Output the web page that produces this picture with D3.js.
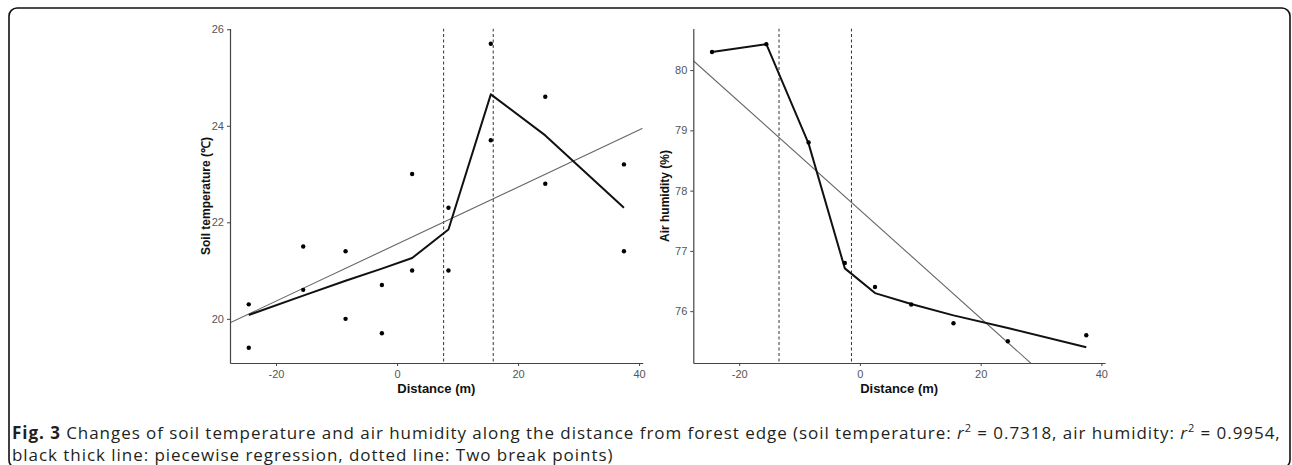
<!DOCTYPE html>
<html>
<head>
<meta charset="UTF-8">
<title>Fig. 3</title>
<script src="https://cdn.jsdelivr.net/npm/d3@7"></script>
<style>
  body { margin: 0; background: #fff; }
  svg { display: block; }
  .tick text { fill: #555; font-family: "Liberation Sans", Arial, sans-serif; font-size: 11px; }
  .tick line, .domain { stroke: #444; }
</style>
</head>
<body>
<div id="fig"></div>
<script>
// distance from forest edge (m)
const distance = [-24.5, -15.5, -8.5, -2.5, 2.5, 8.5, 15.5, 24.5, 37.5];
// soil temperature: two plots per distance
const soilTempA = [20.3, 21.5, 21.4, 20.7, 23.0, 22.3, 25.7, 24.6, 23.2];
const soilTempB = [19.4, 20.6, 20.0, 19.7, 21.0, 21.0, 23.7, 22.8, 21.4];
const soilTempFit = [20.08, 20.48, 20.79, 21.04, 21.26, 21.85, 24.65, 23.8, 22.3];
const soilBreaks = [7.7, 15.9];
const soilTicks = [20, 22, 24, 26];
// air humidity
const airHum = [80.30, 80.43, 78.80, 76.80, 76.40, 76.11, 75.80, 75.50, 75.60];
const airHumFit = [80.30, 80.43, 78.78, 76.71, 76.30, 76.12, 75.93, 75.72, 75.40];
const airBreaks = [-13.4, -1.4];
const airTicks = [76, 77, 78, 79, 80];
const distTicks = [-20, 0, 20, 40];

const W = 1292, H = 465;
const svg = d3.select("#fig").append("svg").attr("width", W).attr("height", H);

// rounded frame around figure
svg.append("rect")
  .attr("x", 9).attr("y", 8).attr("width", 1281).attr("height", 460)
  .attr("rx", 8)
  .attr("fill", "none").attr("stroke", "#111").attr("stroke-width", 1.6);

// simple least squares for the thin grey line
function lm(xs, ys) {
  const mx = d3.mean(xs), my = d3.mean(ys);
  let sxy = 0, sxx = 0;
  xs.forEach((x, i) => { sxy += (x - mx) * (ys[i] - my); sxx += (x - mx) * (x - mx); });
  const b = sxy / sxx;
  return { a: my - b * mx, b: b };
}

function panel(opt) {
  const x = d3.scaleLinear().domain([-27.6, 40.6]).range([opt.left, opt.right]);
  const y = d3.scaleLinear().domain(opt.ydom).range([363, 28.5]);
  const g = svg.append("g");

  const clipId = "clip" + opt.id;
  svg.append("clipPath").attr("id", clipId)
    .append("rect").attr("x", opt.left).attr("y", 28.5)
    .attr("width", opt.right - opt.left).attr("height", 363 - 28.5);

  const plot = g.append("g").attr("clip-path", "url(#" + clipId + ")");

  // break points
  plot.selectAll("line.brk")
    .data(opt.breaks)
    .join("line")
    .attr("class", "brk")
    .attr("x1", d => x(d)).attr("x2", d => x(d))
    .attr("y1", y.range()[1]).attr("y2", y.range()[0])
    .attr("stroke", "#333").attr("stroke-width", 1)
    .attr("stroke-dasharray", "3,2.5");

  // linear fit
  const fit = lm(opt.xs, opt.ys);
  const xd = x.domain();
  plot.append("line")
    .attr("x1", x(xd[0])).attr("y1", y(fit.a + fit.b * xd[0]))
    .attr("x2", x(xd[1])).attr("y2", y(fit.a + fit.b * xd[1]))
    .attr("stroke", "#666").attr("stroke-width", 1.1);

  // piecewise regression
  plot.append("path")
    .datum(distance.map((d, i) => [d, opt.fitted[i]]))
    .attr("fill", "none").attr("stroke", "#111").attr("stroke-width", 2)
    .attr("stroke-linejoin", "round")
    .attr("d", d3.line().x(d => x(d[0])).y(d => y(d[1])));

  // observations
  plot.selectAll("circle")
    .data(opt.xs.map((d, i) => [d, opt.ys[i]]))
    .join("circle")
    .attr("cx", d => x(d[0])).attr("cy", d => y(d[1]))
    .attr("r", 2.2).attr("fill", "#000");

  // axes
  g.append("g").attr("transform", "translate(0,363)")
    .call(d3.axisBottom(x).tickValues(distTicks).tickFormat(d => String(d))
      .tickSize(3).tickPadding(4).tickSizeOuter(0));
  g.append("g").attr("transform", "translate(" + opt.left + ",0)")
    .call(d3.axisLeft(y).tickValues(opt.ticks).tickFormat(d => String(d))
      .tickSize(3).tickPadding(3).tickSizeOuter(0));
  g.selectAll(".domain").attr("stroke-width", 1.2);

  g.append("text")
    .attr("x", (opt.left + opt.right) / 2).attr("y", 393)
    .attr("text-anchor", "middle")
    .attr("font-family", "Liberation Sans, Arial, sans-serif")
    .attr("font-size", 13).attr("font-weight", "bold").attr("fill", "#111")
    .text("Distance (m)");

  g.append("text")
    .attr("transform", "translate(" + opt.ylabX + ",196) rotate(-90)")
    .attr("text-anchor", "middle")
    .attr("font-family", "Liberation Sans, Arial, sans-serif")
    .attr("font-size", 12).attr("font-weight", "bold").attr("fill", "#111")
    .text(opt.ylab);
}

panel({
  id: "soil", left: 230, right: 642.7, ydom: [19.085, 26.015], ticks: soilTicks,
  xs: distance.concat(distance), ys: soilTempA.concat(soilTempB),
  fitted: soilTempFit, breaks: soilBreaks,
  ylab: "Soil temperature (\u2103)", ylabX: 210
});

panel({
  id: "air", left: 693.3, right: 1105, ydom: [75.14, 80.69], ticks: airTicks,
  xs: distance, ys: airHum,
  fitted: airHumFit, breaks: airBreaks,
  ylab: "Air humidity (%)", ylabX: 669
});

// caption
const cap = svg.append("g")
  .attr("font-family", "Open Sans, Noto Sans, sans-serif")
  .attr("font-size", 17).attr("letter-spacing", 0.95).attr("fill", "#231f20");

const line1 = cap.append("text").attr("x", 12).attr("y", 439);
line1.append("tspan").attr("font-weight", "bold").text("Fig. 3");
line1.append("tspan").text(" Changes of soil temperature and air humidity along the distance from forest edge (soil temperature: ");
line1.append("tspan").attr("font-style", "italic").text("r");
line1.append("tspan").attr("font-size", 11).attr("dy", -7).text("2");
line1.append("tspan").attr("dy", 7).text(" = 0.7318, air humidity: ");
line1.append("tspan").attr("font-style", "italic").text("r");
line1.append("tspan").attr("font-size", 11).attr("dy", -7).text("2");
line1.append("tspan").attr("dy", 7).text(" = 0.9954,");

cap.append("text").attr("x", 12).attr("y", 461)
  .text("black thick line: piecewise regression, dotted line: Two break points)");
</script>
</body>
</html>
